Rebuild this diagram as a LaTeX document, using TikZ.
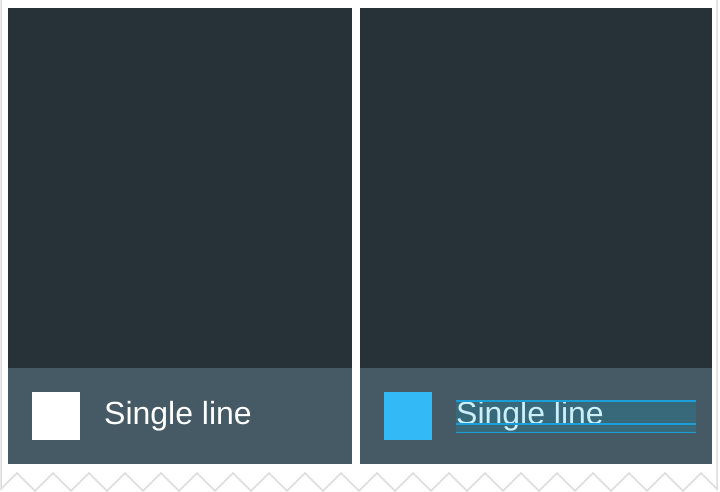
\documentclass[tikz,border=0pt]{standalone}
\usepackage{fontspec}
\setmainfont{Liberation Sans}
\newfontfamily\labelfont{Liberation Sans}
\usepackage{tikz}
\usetikzlibrary{positioning,calc}
\definecolor{slate}{HTML}{263238}
\definecolor{bar}{HTML}{455A64}
\definecolor{swatchblue}{HTML}{33B9F5}
\definecolor{guide}{HTML}{1A9FD9}
\definecolor{guidefill}{HTML}{37697B}
\definecolor{guidetext}{HTML}{CBEFFB}
\definecolor{tear}{HTML}{DDDDDD}

\begin{document}
\begin{tikzpicture}[
  x=1pt,y=-1pt,
  panel/.style={fill=slate},
  footer/.style={fill=bar},
  swatch/.style={minimum size=48pt,inner sep=0pt,outer sep=0pt},
  caption/.style={anchor=base west,inner sep=0pt,font=\labelfont\fontsize{32}{38}\selectfont,text=white},
  keyline/.style={guide,line width=1.9pt},
  edge/.style={tear,line width=1.5pt,line join=miter}
]
\useasboundingbox[fill=white] (0,0) rectangle (720,492);
% torn paper outline
\draw[edge] (1,0) -- (1,489)
  \foreach \k in {0,...,18} { -- ({17+36*\k},473) -- ({35+36*\k},491) }
  -- (701,473) -- (717,489) -- (717,0);
% left panel
\fill[panel] (8,8) rectangle (352,368);
\fill[footer] (8,368) rectangle (352,464);
\node[swatch,fill=white] (plainsq) at (56,416) {};
\node[caption] (plaintext) at (104,424) {Single line};
% right panel with keylines
\fill[panel] (360,8) rectangle (712,368);
\fill[footer] (360,368) rectangle (712,464);
\node[swatch,fill=swatchblue] (bluesq) at (408,416) {};
\fill[guidefill] (456,400.7) rectangle (696,432.5);
\node[caption,text=guidetext] (guidetext) at (456,424) {Single line};
\draw[keyline] (456,400.7) -- (696,400.7);
\draw[keyline] (guidetext.base west) -- (696,424);
\draw[keyline] (456,432.5) -- (696,432.5);
\end{tikzpicture}
\end{document}
